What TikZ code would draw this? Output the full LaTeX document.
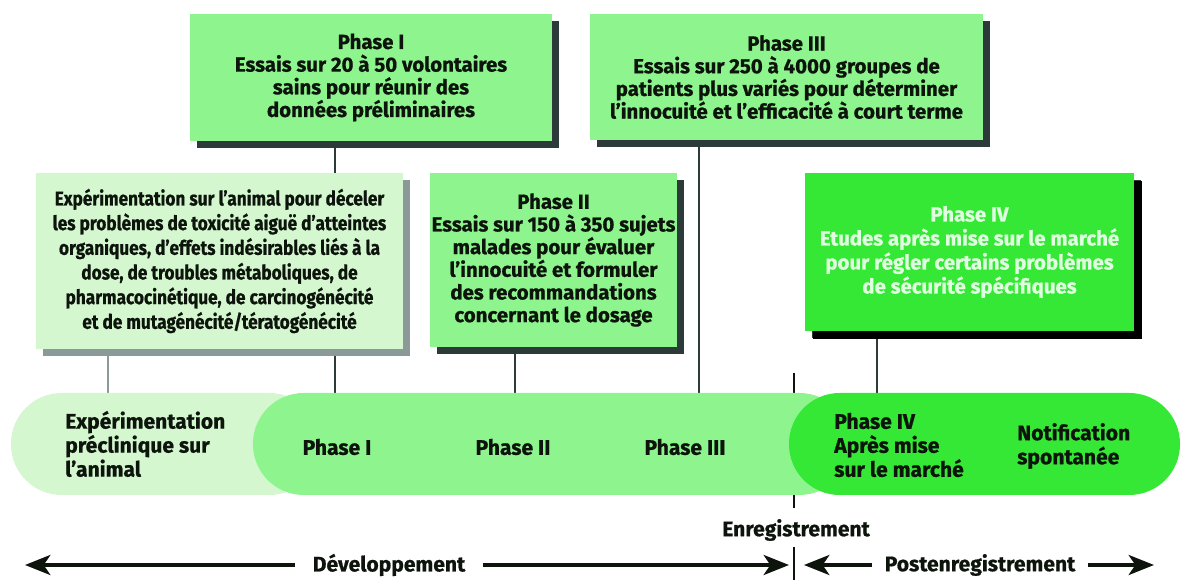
\documentclass[tikz,border=0pt]{standalone}
\usepackage{fontspec}
\setmainfont{Fira Sans}[BoldFeatures={FakeBold=0.8}]
\newfontfamily\narrowsans{Fira Sans}[FakeStretch=0.86,BoldFeatures={FakeBold=0.8}]
\usetikzlibrary{positioning,shadows,backgrounds,arrows.meta}
\tikzset{>={Stealth[length=19pt,width=15pt,inset=5pt]}}
\definecolor{pale}{HTML}{D4F7D0}
\definecolor{mid}{HTML}{8EF58E}
\definecolor{vivid}{HTML}{36E836}
\definecolor{slate}{HTML}{2C3A3A}
\definecolor{ash}{HTML}{8B9999}
\definecolor{ink}{HTML}{0C140C}
\tikzset{
  box/.style={fill=mid,text=ink,inner sep=0pt,align=center,font=\bfseries\fontsize{15.3}{17}\selectfont,drop shadow={shadow xshift=5.5pt,shadow yshift=-5.5pt,fill=slate,opacity=1}},
  barlabel/.style={text=ink,inner sep=0pt,font=\bfseries\fontsize{15.8}{18}\selectfont},
  link/.style={draw=slate,line width=1.5pt},
  arr/.style={->,line width=2.7pt,draw=ink}
}

\begin{document}
\begin{tikzpicture}[x=0.75pt,y=-0.75pt]
\useasboundingbox (0,0) rectangle (1183,580);
\node[box,minimum width=271.5pt,minimum height=95.25pt] (pI) at (371,77.5) {Phase I\\Essais sur 20 à 50 volontaires\\sains pour réunir des\\données préliminaires};
\node[box,minimum width=294.75pt,minimum height=94.5pt] (pIII) at (786.5,77) {Phase III\\Essais sur 250 à 4000 groupes de\\patients plus variés pour déterminer\\l’innocuité et l’efficacité à court terme};
\node[box,fill=pale,minimum width=275.25pt,minimum height=132pt,font=\narrowsans\bfseries\fontsize{15}{18.5}\selectfont,drop shadow={shadow xshift=5.5pt,shadow yshift=-5.5pt,fill=ash,opacity=1}] (pre) at (219.5,261) {Expérimentation sur l’animal pour déceler\\les problèmes de toxicité aiguë d’atteintes\\organiques, d’effets indésirables liés à la\\dose, de troubles métaboliques, de\\pharmacocinétique, de carcinogénécité\\et de mutagénécité/tératogénécité};
\node[box,minimum width=185.25pt,minimum height=130.5pt] (pII) at (553.5,260) {Phase II\\Essais sur 150 à 350 sujets\\malades pour évaluer\\l’innocuité et formuler\\des recommandations\\concernant le dosage};
\node[box,fill=vivid,text=white!88!green,minimum width=246.75pt,minimum height=118.5pt,font=\bfseries\fontsize{15.3}{18}\selectfont,drop shadow={shadow xshift=6pt,shadow yshift=-6pt,fill=black,opacity=1}] (pIV) at (969.5,252) {Phase IV\\Etudes après mise sur le marché\\pour régler certains problèmes\\de sécurité spécifiques};
\coordinate (tpre) at (108,393);
\coordinate (tI) at (335,393);
\coordinate (tII) at (515,393);
\coordinate (tIII) at (699,393);
\coordinate (tIV) at (877,393);
\coordinate (regtop) at (794,373);
\coordinate (regbot) at (794,508);
\begin{scope}[on background layer]
\draw[link,draw=ash] (pre.south -| tpre) -- (tpre);
\draw[link] (pI.south -| tI) -- (tI);
\draw[link] (pII.south -| tII) -- (tII);
\draw[link] (pIII.south -| tIII) -- (tIII);
\draw[link] (pIV.south -| tIV) -- (tIV);
\draw[link,draw=ink] (regtop) -- (regbot);
\end{scope}
\fill[pale,rounded corners=38pt] (11,393) rectangle (320,495);
\fill[mid,rounded corners=38pt] (253,393) rectangle (850,495);
\fill[vivid,rounded corners=38pt] (789,393) rectangle (1180,495);
\node[barlabel,align=left,anchor=west] (lpre) at (65,444) {Expérimentation\\préclinique sur\\l’animal};
\node[barlabel] (lI) at (337,447) {Phase I};
\node[barlabel] (lII) at (513,447) {Phase II};
\node[barlabel] (lIII) at (685,447) {Phase III};
\node[barlabel,align=left,anchor=west] (lIV) at (834,445) {Phase IV\\Après mise\\sur le marché};
\node[barlabel,align=left,anchor=west] (lnot) at (1017,446) {Notification\\spontanée};
\node[barlabel] (reg) at (796,530) {Enregistrement};
\coordinate (regfoot) at (794,547);
\coordinate (regend) at (794,580);
\draw[link,draw=ink] (regfoot) -- (regend);
\node[barlabel,inner xsep=13pt] (dev) at (389,565) {Développement};
\node[barlabel,inner xsep=9pt] (post) at (980,565) {Postenregistrement};
\coordinate (devL) at (25,565);
\coordinate (devR) at (789,565);
\coordinate (postL) at (804,565);
\coordinate (postR) at (1154,565);
\draw[arr] (dev.west) -- (devL);
\draw[arr] (dev.east) -- (devR);
\draw[arr] (post.west) -- (postL);
\draw[arr] (post.east) -- (postR);
\end{tikzpicture}
\end{document}
